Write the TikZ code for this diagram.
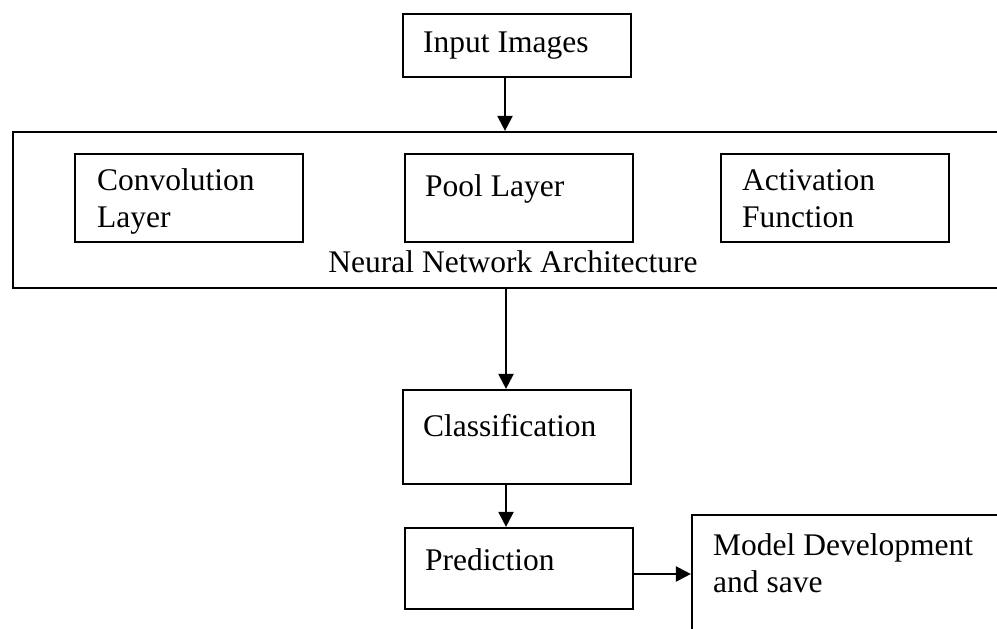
\documentclass[tikz,border=0pt]{standalone}
\usepackage{fontspec}
\setmainfont{Liberation Serif}
\usetikzlibrary{arrows.meta}
\tikzset{
  box/.style={draw=black, line width=2.2bp, fill=none, inner sep=0pt},
  txt/.style={font=\fontsize{31.5bp}{37bp}\selectfont, inner sep=0pt, anchor=base west, align=left},
  arr/.style={draw=black, line width=2.2bp, -{Triangle[length=15bp,width=15bp]}}
}
\begin{document}
\begin{tikzpicture}[x=1bp,y=-1bp]
\useasboundingbox[fill=white] (0,0) rectangle (997,629);
\clip (0,0) rectangle (997,629);

% boxes
\node[box, minimum width=228bp, minimum height=63bp] (inp) at (517,45.5) {};
\node[box, minimum width=997bp, minimum height=156bp] (nna) at (511.5,210) {};
\node[box, minimum width=228bp, minimum height=88bp] (conv) at (189,198) {};
\node[box, minimum width=228bp, minimum height=88bp] (pool) at (519,198) {};
\node[box, minimum width=228bp, minimum height=88bp] (act) at (835,198) {};
\node[box, minimum width=228bp, minimum height=94bp] (cls) at (517,437) {};
\node[box, minimum width=228bp, minimum height=81bp] (pred) at (519,568.5) {};
\node[box, minimum width=318bp, minimum height=125bp] (model) at (851,577.5) {};

% texts (multi-line nodes: base = last line)
\node[txt] (inpT) at (423,53) {Input Images};
\node[txt] (convT) at (97,228) {Convolution\\Layer};
\node[txt] (poolT) at (425,197) {Pool Layer};
\node[txt] (actT) at (742,228) {Activation\\Function};
\node[txt, anchor=base] (nnaT) at (513,273) {Neural Network Architecture};
\node[txt] (clsT) at (423,436) {Classification};
\node[txt] (predT) at (425,570) {Prediction};
\node[txt] (modelT) at (713,592) {Model Development\\and save};

% connectors
\draw[arr] ([xshift=-12bp]inp.south) -- ([xshift=-12bp]inp.south |- nna.north);
\draw[arr] ([xshift=-11bp]cls.north |- nna.south) -- ([xshift=-11bp]cls.north);
\draw[arr] ([xshift=-11bp]cls.south) -- ([xshift=-11bp]cls.south |- pred.north);
\draw[arr] ([yshift=-5.5bp]pred.east) -- ([yshift=-5.5bp]pred.east -| model.west);
\end{tikzpicture}
\end{document}
